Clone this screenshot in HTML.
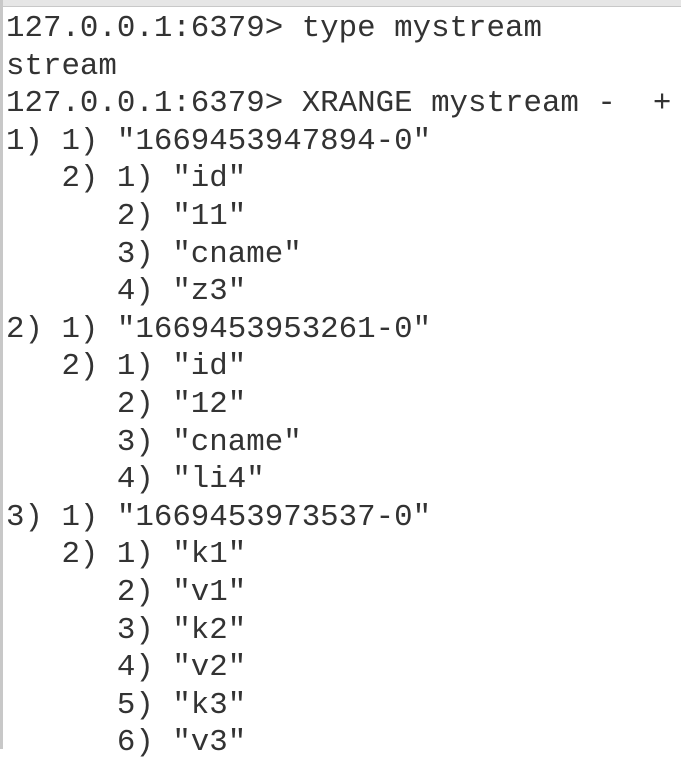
<!DOCTYPE html>
<html><head><style>
html,body{margin:0;padding:0;width:681px;height:749px;overflow:hidden;background:#fff}
.top{position:absolute;left:0;top:0;width:681px;height:6px;background:#e6e6e6;border-bottom:1px solid #c8c8c8}
.left{position:absolute;left:0;top:0;width:3px;height:749px;background:#c8c8c8}
pre{position:absolute;left:6px;top:10px;margin:0;font-family:"Liberation Mono",monospace;font-size:30.8px;line-height:37.6px;color:#333}
</style></head><body>
<div class="top"></div><div class="left"></div>
<pre>127.0.0.1:6379> type mystream
stream
127.0.0.1:6379> XRANGE mystream -  +
1) 1) "1669453947894-0"
   2) 1) "id"
      2) "11"
      3) "cname"
      4) "z3"
2) 1) "1669453953261-0"
   2) 1) "id"
      2) "12"
      3) "cname"
      4) "li4"
3) 1) "1669453973537-0"
   2) 1) "k1"
      2) "v1"
      3) "k2"
      4) "v2"
      5) "k3"
      6) "v3"</pre>
</body></html>
